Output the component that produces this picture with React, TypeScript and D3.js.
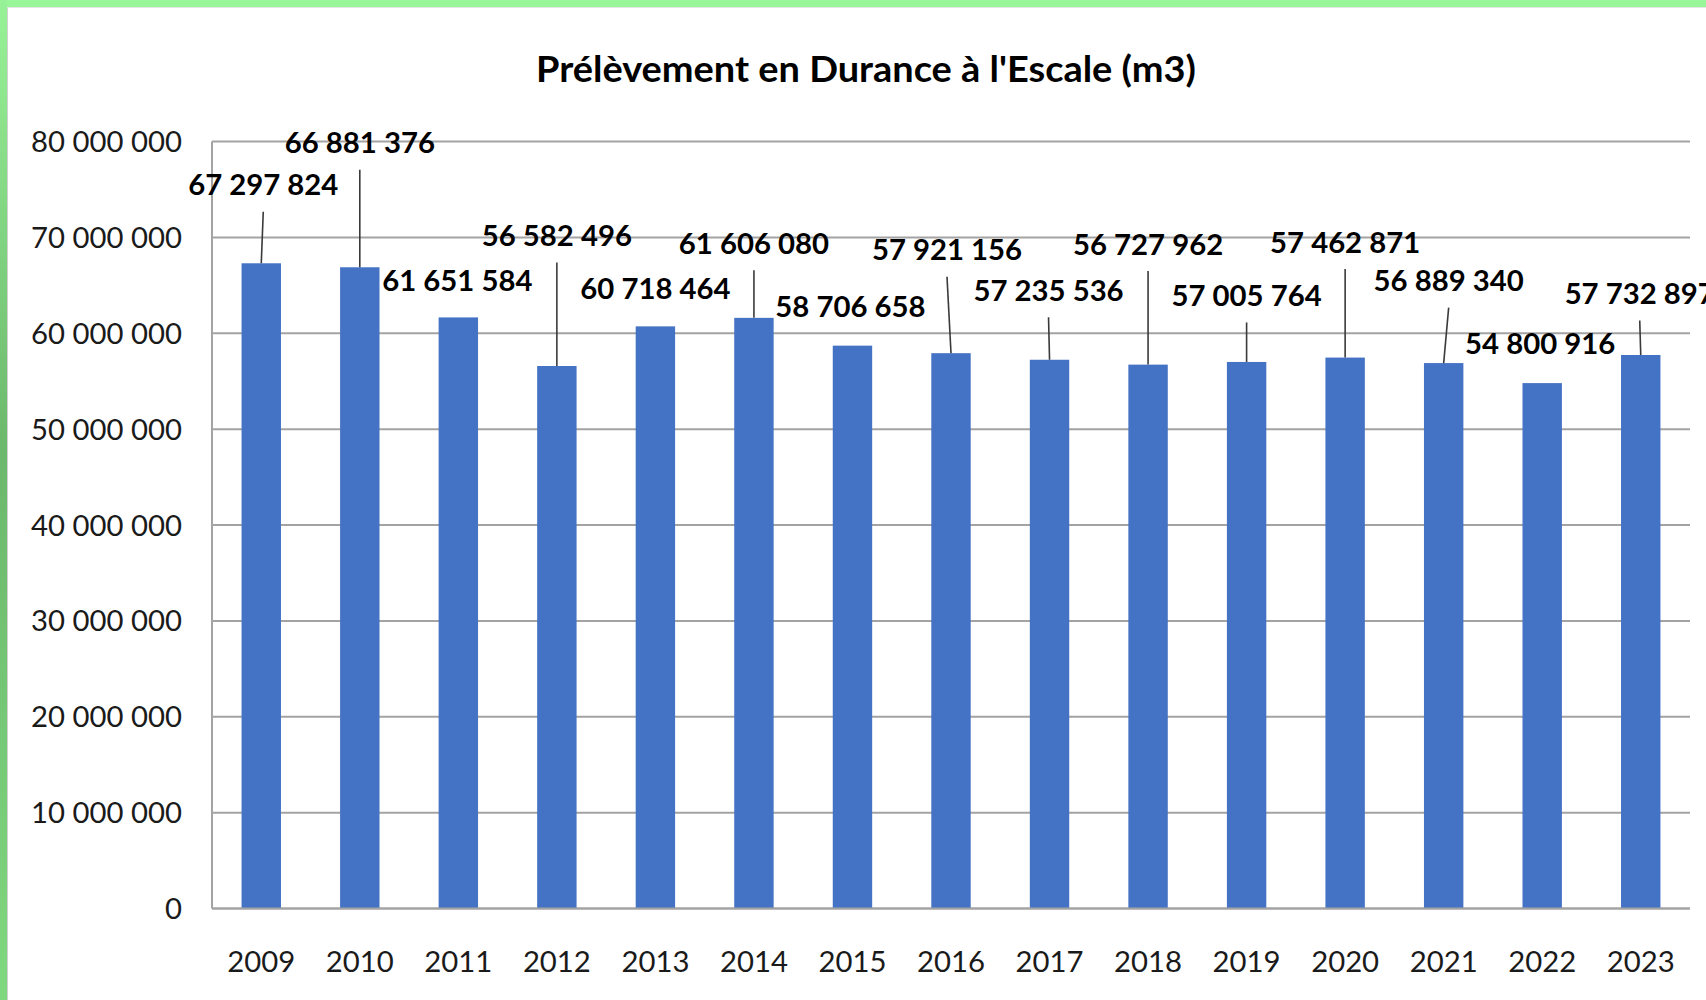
import React from "react";
import * as d3 from "d3";

const years = ["2009","2010","2011","2012","2013","2014","2015","2016","2017","2018","2019","2020","2021","2022","2023"];
const volumes = [67297824, 66881376, 61651584, 56582496, 60718464, 61606080, 58706658, 57921156, 57235536, 56727962, 57005764, 57462871, 56889340, 54800916, 57732897];
const yTicks = [0, 10000000, 20000000, 30000000, 40000000, 50000000, 60000000, 70000000, 80000000];
const title = "Prélèvement en Durance à l'Escale (m3)";

// label layout (offsets from bar top centre, pixels)
const labelDx = [2, 0, -1, 0, 0, 0, -2, -4, -1, 0, 0, 0, 5, -2, -1];
const labelDy = [-68, -114, -26, -120, -27, -64, -29, -93, -59, -110, -56, -105, -72, -29, -51];
const hasLeader = [true, true, false, true, false, true, false, true, true, true, true, true, true, false, true];

const W = 1706, H = 1000;
const FONT = "Lato, 'Open Sans', sans-serif";

const fr = d3.formatLocale({ decimal: ",", thousands: " ", grouping: [3], currency: ["", " €"] });
const fmt = fr.format(",d");

export default function App() {
  const x = d3.scaleBand<string>().domain(years).range([212, 1690]).paddingInner(0.6).paddingOuter(0.3);
  const y = d3.scaleLinear().domain([0, 80000000]).range([908.5, 141.5]);
  const grid = "#a3a3a3";
  return (
    <svg width={W} height={H} viewBox={`0 0 ${W} ${H}`} style={{ position: "absolute", left: 0, top: 0, display: "block", background: "#fff" }}>
      <defs>
        <linearGradient id="leftg" x1="0" y1="0" x2="0" y2="1">
          <stop offset="0" stopColor="#97f297" />
          <stop offset="0.45" stopColor="#6cb86c" />
          <stop offset="1" stopColor="#7fd87f" />
        </linearGradient>
      </defs>
      <rect x={0} y={0} width={W} height={H} fill="#ffffff" />
      <rect x={0} y={0} width={W} height={7} fill="#98f598" />
      <rect x={0} y={0} width={7} height={H} fill="url(#leftg)" />
      <line x1={7.5} x2={7.5} y1={7} y2={H} stroke="#d0d0d0" strokeWidth={1} />
      <line x1={7} x2={W} y1={7.5} y2={7.5} stroke="#e4e4e4" strokeWidth={1} />

      <text x={866} y={82} textAnchor="middle" fontFamily={FONT} fontWeight={700} fontSize={36} fill="#000" textLength={660} lengthAdjust="spacingAndGlyphs">{title}</text>

      {yTicks.map((t) => (
        <g key={t}>
          <line x1={212} x2={1690} y1={y(t)} y2={y(t)} stroke={grid} strokeWidth={2} />
          <text x={182} y={y(t)} dy="0.36em" textAnchor="end" fontFamily={FONT} fontSize={29.3} fill="#1a1a1a">{fmt(t)}</text>
        </g>
      ))}
      <line x1={212} x2={212} y1={y(80000000)} y2={y(0)} stroke={grid} strokeWidth={2} />

      {years.map((yr, i) => (
        <rect key={yr} x={x(yr)} y={y(volumes[i])} width={x.bandwidth()} height={y(0) - y(volumes[i])} fill="#4472c4" />
      ))}
      <line x1={212} x2={1690} y1={y(0)} y2={y(0)} stroke={grid} strokeWidth={2} />

      {years.map((yr, i) => {
        const cx = (x(yr) as number) + x.bandwidth() / 2;
        const top = y(volumes[i]);
        const lx = cx + labelDx[i];
        const ly = top + labelDy[i];
        return (
          <g key={yr}>
            {hasLeader[i] && <line x1={lx} y1={ly + 16.5} x2={cx} y2={top} stroke="#3a3a3a" strokeWidth={1.6} />}
            <text x={lx} y={ly} textAnchor="middle" fontFamily={FONT} fontWeight={700} fontSize={29.3} fill="#000">{fmt(volumes[i])}</text>
            <text x={cx} y={972} textAnchor="middle" fontFamily={FONT} fontSize={29.3} fill="#1a1a1a">{yr}</text>
          </g>
        );
      })}
    </svg>
  );
}
